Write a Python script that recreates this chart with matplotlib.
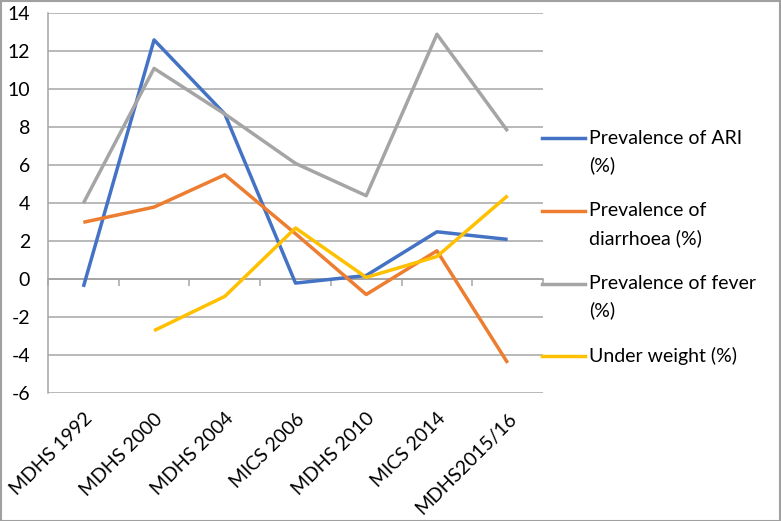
import numpy as np
import matplotlib
matplotlib.use("Agg")
import matplotlib.pyplot as plt
from matplotlib.lines import Line2D
from matplotlib.patches import Rectangle

plt.rcParams['font.family'] = ['Lato', 'DejaVu Sans']

surveys = ['MDHS 1992', 'MDHS 2000', 'MDHS 2004', 'MICS 2006',
           'MDHS 2010', 'MICS 2014', 'MDHS2015/16']
ari = [-0.4, 12.6, 8.7, -0.2, 0.2, 2.5, 2.1]
diarrhoea = [3.0, 3.8, 5.5, 2.4, -0.8, 1.5, -4.4]
fever = [4.0, 11.1, 8.7, 6.1, 4.4, 12.9, 7.8]
underweight = [np.nan, -2.7, -0.9, 2.7, 0.1, 1.2, 4.4]

series_names = ['Prevalence of ARI\n(%)', 'Prevalence of\ndiarrhoea (%)',
                'Prevalence of fever\n(%)', 'Under weight (%)']
colors = ['#4472C4', '#ED7D31', '#A5A5A5', '#FFC000']
yticks = list(range(-6, 15, 2))

W, H = 781, 521
fs = 14
fig = plt.figure(figsize=(W / 100, H / 100), dpi=100)
ax = fig.add_axes([48 / W, (H - 393.3) / H, (543 - 48) / W, (393.3 - 13.3) / H])

x = np.arange(len(surveys))
for vals, c in zip([ari, diarrhoea, fever, underweight], colors):
    ax.plot(x, vals, color=c, lw=2.5, solid_capstyle='butt', zorder=3)

ax.set_xlim(-0.5, len(surveys) - 0.5)
ax.set_ylim(-6, 14)
ax.set_yticks(yticks)
ax.set_yticklabels([str(v) for v in yticks])
ax.grid(axis='y', color='#A6A6A6', lw=1.1)
ax.set_axisbelow(True)
ax.tick_params(axis='y', length=0, pad=13, labelsize=fs)
for s in ['top', 'right', 'bottom']:
    ax.spines[s].set_visible(False)
ax.spines['left'].set_color('#A6A6A6')
ax.spines['left'].set_linewidth(1.1)

ax.set_xticks(x)
ax.set_xticklabels(surveys, rotation=45, ha='right', rotation_mode='anchor')
ax.tick_params(axis='x', length=0, pad=12, labelsize=fs)

# category axis crossing at zero
sec = ax.secondary_xaxis(6 / 20)
sec.set_xticks(np.arange(-0.5, len(surveys), 1.0))
sec.set_xticklabels([])
sec.tick_params(length=5, color='#A6A6A6', width=1.1, direction='out')
sec.spines['bottom'].set_color('#A6A6A6')
sec.spines['bottom'].set_linewidth(1.1)
ax.axhline(0, color='#A6A6A6', lw=1.1, zorder=1)

# legend drawn by hand so handles line up with the first text line
leg_y = [138, 211, 283.5, 356]
for name, c, yy in zip(series_names, colors, leg_y):
    fig.add_artist(Line2D([542 / W, 585 / W], [1 - yy / H, 1 - yy / H],
                          color=c, lw=2.5, transform=fig.transFigure))
    for i, line in enumerate(name.split('\n')):
        fig.text(589 / W, 1 - (yy + i * 27) / H, line, fontsize=fs,
                 va='center', ha='left', color='black')

fig.add_artist(Rectangle((0.5 / W, 0.5 / H), 1 - 1.5 / W, 1 - 1.5 / H,
                         transform=fig.transFigure, fill=False,
                         edgecolor='#A0A0A0', lw=1.5))

fig.savefig('out.png', dpi=100)
